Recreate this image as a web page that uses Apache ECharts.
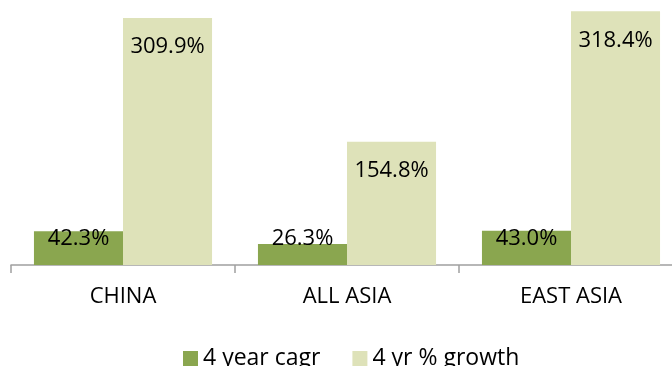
<!DOCTYPE html>
<html>
<head>
<meta charset="utf-8">
<script src="https://cdn.jsdelivr.net/npm/echarts@6/dist/echarts.min.js"></script>
<style>html,body{margin:0;padding:0;background:#fff;}#c{width:672px;height:366px;}</style>
</head>
<body>
<div id="c"></div>
<script>
const categories = ['CHINA', 'ALL ASIA', 'EAST ASIA'];
const seriesNames = ['4 year cagr', '4 yr % growth'];
const cagr = [42.3, 26.3, 43.0];
const growth = [309.9, 154.8, 318.4];

const font = 'Open Sans';
const chart = echarts.init(document.getElementById('c'));
chart.setOption({
  animation: false,
  textStyle: { fontFamily: font },
  grid: { left: 11, width: 672, top: 2, height: 263, containLabel: false, outerBoundsMode: 'none' },
  legend: {
    data: seriesNames,
    top: 342,
    left: 178,
    itemWidth: 15,
    itemHeight: 15,
    itemGap: 32,
    icon: 'rect',
    textStyle: { fontSize: 23, color: '#000', fontFamily: font }
  },
  xAxis: {
    type: 'category',
    data: categories,
    axisLine: { show: true, lineStyle: { color: '#a0a0a0', width: 1.5 } },
    axisTick: { show: true, length: 8, alignWithLabel: false, lineStyle: { color: '#a0a0a0', width: 1.5 } },
    axisLabel: { fontSize: 22, color: '#000', margin: 21, fontFamily: font }
  },
  yAxis: {
    type: 'value',
    min: 0,
    max: 330,
    show: false,
    splitLine: { show: false }
  },
  series: [
    {
      name: seriesNames[0],
      type: 'bar',
      data: cagr,
      barGap: '0%',
      barCategoryGap: '20.5%',
      itemStyle: { color: '#8aa64f' },
      label: {
        show: true,
        position: 'insideBottom',
        distance: 15,
        fontSize: 22,
        color: '#000',
        fontFamily: font,
        formatter: p => p.value.toFixed(1) + '%'
      }
    },
    {
      name: seriesNames[1],
      type: 'bar',
      data: growth,
      barGap: '0%',
      barCategoryGap: '20.5%',
      itemStyle: { color: '#dee2b9' },
      label: {
        show: true,
        position: 'insideTop',
        distance: 18,
        fontSize: 22,
        color: '#000',
        fontFamily: font,
        formatter: p => p.value.toFixed(1) + '%'
      }
    }
  ]
});
</script>
</body>
</html>
